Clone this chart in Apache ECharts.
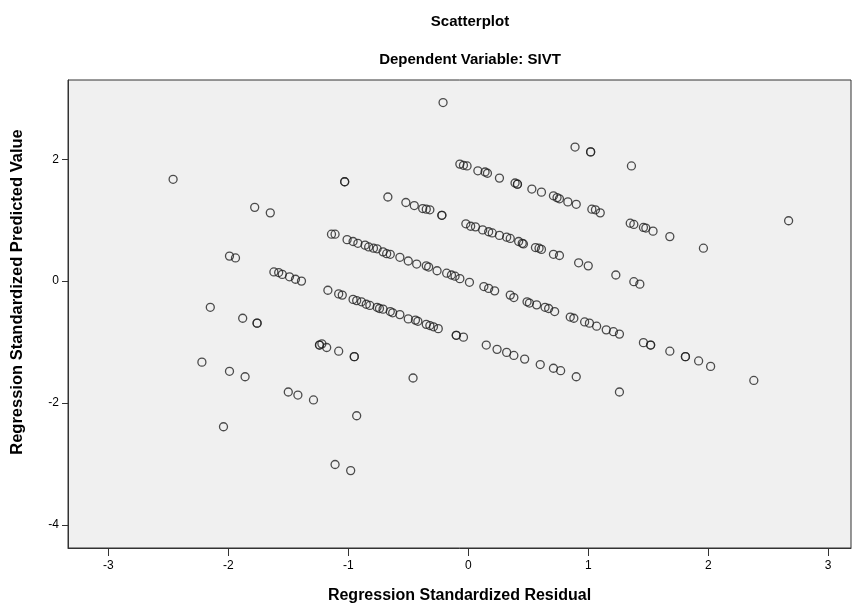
<!DOCTYPE html>
<html>
<head>
<meta charset="utf-8">
<script src="https://cdn.jsdelivr.net/npm/echarts@6/dist/echarts.min.js"></script>
<style>html,body{margin:0;padding:0;background:#fff;}#c{width:858px;height:607px;}</style>
</head>
<body>
<div id="c"></div>
<script>
// Regression Standardized Residual (x) and Regression Standardized Predicted Value (y)
const residual = [
  -0.21,
  0.89, 1.02, 1.02, 1.36, 2.67,
  -0.07, -0.04, -0.01, 0.08, 0.14, 0.16, 0.26, 0.39, 0.41, 0.41, 0.53, 0.61, 0.71, 0.74, 0.76, 0.83, 0.90, 1.03, 1.06, 1.10, 1.35, 1.38, 1.46, 1.48, 1.54, 1.68, 1.96,
  -1.03, -1.03, -0.67, -0.52, -0.45, -0.38, -0.35, -0.32, -0.22, -0.22, -0.02, 0.02, 0.06, 0.12, 0.17, 0.20, 0.26, 0.32, 0.35, 0.42, 0.45, 0.46, 0.56, 0.59, 0.61, 0.71, 0.76, 0.92, 1.00, 1.23, 1.38, 1.43,
  -2.46, -1.78, -1.65, -1.14, -1.11, -1.01, -0.96, -0.92, -0.86, -0.83, -0.79, -0.76, -0.71, -0.68, -0.65, -0.57, -0.50, -0.43, -0.35, -0.33, -0.26, -0.18, -0.14, -0.11, -0.07, 0.01, 0.13, 0.17, 0.22, 0.35, 0.38, 0.49, 0.51, 0.57, 0.64, 0.67, 0.72, 0.85, 0.88, 0.97, 1.01, 1.07, 1.15, 1.21, 1.26, 1.46, 1.52, 1.52, 1.68, 1.81, 1.81, 1.92, 2.02, 2.38,
  -1.99, -1.94, -1.62, -1.58, -1.55, -1.49, -1.44, -1.39, -1.17, -1.08, -1.05, -0.96, -0.93, -0.89, -0.85, -0.82, -0.76, -0.74, -0.71, -0.65, -0.63, -0.57, -0.50, -0.44, -0.42, -0.35, -0.32, -0.29, -0.25, -0.10, -0.10, -0.04, 0.15, 0.24, 0.32, 0.38, 0.47, 0.60, 0.71, 0.77, 0.90, 1.26,
  -2.15, -1.88, -1.76, -1.76, -1.24, -1.24, -1.22, -1.18, -1.08, -0.95, -0.95, -0.46,
  -2.22, -1.99, -1.86, -1.50, -1.42, -1.29, -0.93,
  -2.04, -1.11, -0.98
];
const predicted = [
  2.93,
  2.20, 2.12, 2.12, 1.89, 0.99,
  1.92, 1.90, 1.89, 1.81, 1.79, 1.77, 1.69, 1.61, 1.59, 1.59, 1.51, 1.46, 1.40, 1.37, 1.35, 1.30, 1.26, 1.18, 1.17, 1.12, 0.95, 0.93, 0.88, 0.87, 0.82, 0.73, 0.54,
  1.63, 1.63, 1.38, 1.29, 1.24, 1.19, 1.18, 1.17, 1.08, 1.08, 0.94, 0.90, 0.89, 0.84, 0.81, 0.79, 0.75, 0.72, 0.70, 0.65, 0.62, 0.61, 0.55, 0.54, 0.52, 0.44, 0.42, 0.30, 0.25, 0.10, -0.01, -0.05,
  1.67, 1.21, 1.12, 0.77, 0.77, 0.68, 0.65, 0.62, 0.59, 0.56, 0.54, 0.53, 0.48, 0.45, 0.44, 0.39, 0.33, 0.28, 0.25, 0.23, 0.17, 0.13, 0.10, 0.08, 0.04, -0.02, -0.09, -0.12, -0.16, -0.23, -0.27, -0.34, -0.36, -0.39, -0.43, -0.45, -0.50, -0.59, -0.61, -0.67, -0.69, -0.74, -0.80, -0.83, -0.87, -1.01, -1.05, -1.05, -1.15, -1.24, -1.24, -1.31, -1.40, -1.63,
  0.41, 0.38, 0.15, 0.14, 0.11, 0.07, 0.03, 0.00, -0.15, -0.21, -0.23, -0.30, -0.32, -0.34, -0.38, -0.40, -0.43, -0.45, -0.46, -0.50, -0.52, -0.55, -0.62, -0.64, -0.66, -0.71, -0.73, -0.75, -0.78, -0.89, -0.89, -0.92, -1.05, -1.12, -1.17, -1.22, -1.28, -1.37, -1.43, -1.47, -1.57, -1.82,
  -0.43, -0.61, -0.69, -0.69, -1.05, -1.05, -1.03, -1.09, -1.15, -1.24, -1.24, -1.59,
  -1.33, -1.48, -1.57, -1.82, -1.87, -1.95, -2.21,
  -2.39, -3.01, -3.11
];
const xTicks = [-3, -2, -1, 0, 1, 2, 3];
const yTicks = [-4, -2, 0, 2];

const points = residual.map((v, i) => [v, predicted[i]]);
const chart = echarts.init(document.getElementById('c'), null, {renderer: 'canvas'});
const FONT = '"Liberation Sans", Arial, sans-serif';
chart.setOption({
  animation: false,
  backgroundColor: '#ffffff',
  title: [
    {text: 'Scatterplot', left: 465, top: 9, textAlign: 'center',
     textStyle: {fontFamily: FONT, fontSize: 15, fontWeight: 'bold', color: '#000'}},
    {text: 'Dependent Variable: SIVT', left: 465, top: 47, textAlign: 'center',
     textStyle: {fontFamily: FONT, fontSize: 15, fontWeight: 'bold', color: '#000'}}
  ],
  grid: {left: 68, right: 7, top: 80, bottom: 59, show: true, outerBoundsMode: 'none', containLabel: false,
         backgroundColor: '#f0f0f0', borderColor: '#333', borderWidth: 1},
  xAxis: {
    type: 'value', min: -3.336, max: 3.19,
    name: 'Regression Standardized Residual', nameLocation: 'middle', nameGap: 40,
    nameTextStyle: {fontFamily: FONT, fontSize: 16, fontWeight: 'bold', color: '#000'},
    splitLine: {show: false},
    axisLine: {show: true, onZero: false, lineStyle: {color: '#333', width: 1}},
    axisTick: {show: true, length: 8, customValues: xTicks, lineStyle: {color: '#333'}},
    axisLabel: {customValues: xTicks, fontFamily: FONT, fontSize: 12, color: '#000', margin: 12}
  },
  yAxis: {
    type: 'value', min: -4.38, max: 3.30,
    name: 'Regression Standardized Predicted Value', nameLocation: 'middle', nameGap: 42,
    nameTextStyle: {fontFamily: FONT, fontSize: 16.5, fontWeight: 'bold', color: '#000', padding: [0, 0, 0, 44]},
    splitLine: {show: false},
    axisLine: {show: true, onZero: false, lineStyle: {color: '#333', width: 1}},
    axisTick: {show: true, length: 6, customValues: yTicks, lineStyle: {color: '#333'}},
    axisLabel: {customValues: yTicks, fontFamily: FONT, fontSize: 12, color: '#000', margin: 9}
  },
  series: [{
    type: 'scatter',
    data: points,
    symbol: 'circle',
    symbolSize: 8,
    itemStyle: {color: 'rgba(0,0,0,0)', borderColor: '#222', borderWidth: 1.3},
    emphasis: {disabled: true}
  }]
});
</script>
</body>
</html>
